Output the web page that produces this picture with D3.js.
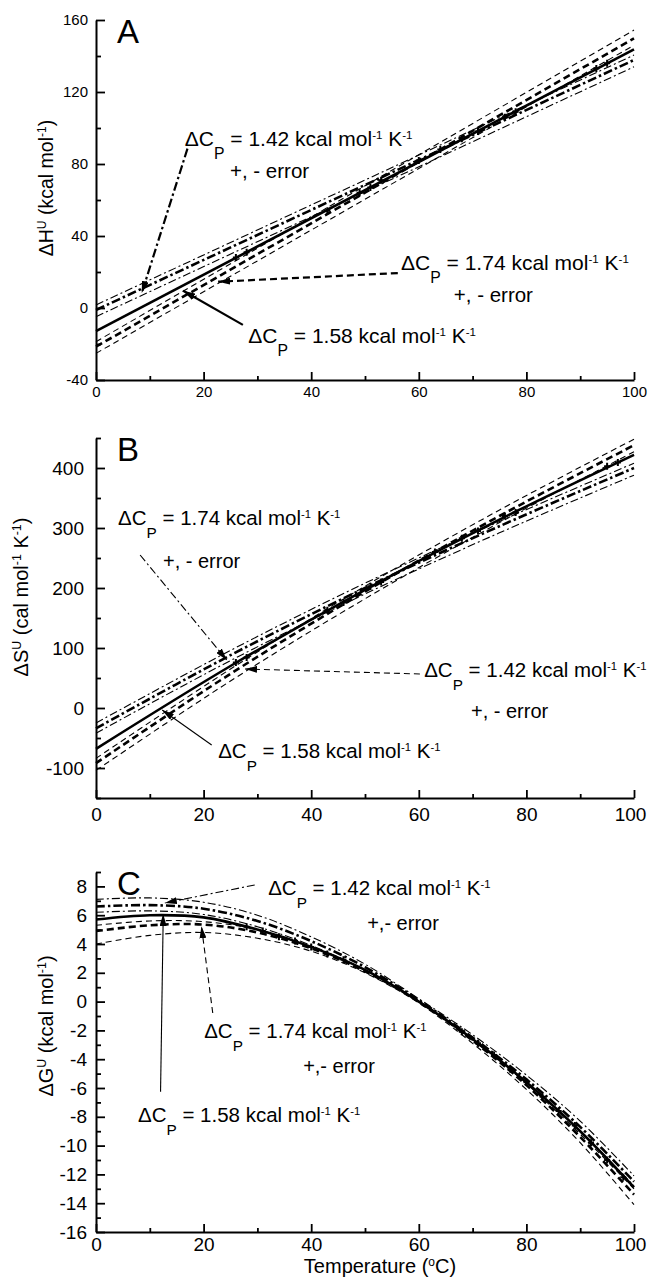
<!DOCTYPE html>
<html>
<head>
<meta charset="utf-8">
<script src="https://cdnjs.cloudflare.com/ajax/libs/d3/7.8.5/d3.min.js"></script>
<style>
  body { margin: 0; background: #fff; }
  svg { display: block; font-family: "Liberation Sans", Arial, Helvetica, sans-serif; }
</style>
</head>
<body>
<script>
// ---- panel A: enthalpy (kcal/mol), straight lines ----
const tempsH = [0, 100];
const dH_solid = [-12.8, 143.7];
const dH_dashdot = [-1.1, 137.8];
const dH_dashdotHi = [1.7, 140.5];
const dH_dashdotLo = [-4.8, 134.0];
const dH_dashed = [-21.5, 149.8];
const dH_dashedHi = [-18.7, 154.4];
const dH_dashedLo = [-25.2, 146.0];
const ptsH_T = [26, 28, 43, 49, 51, 53, 60, 64, 68, 71, 76, 78, 93, 95];
const ptsH = [28, 31, 54, 64, 67, 71, 82, 88, 94, 98, 106, 109, 133, 136];

// ---- panel B: entropy (cal/mol/K) ----
const tempsS = [0, 25, 50, 75, 100];
const dS_solid = [-68, 70, 197, 314, 422];
const dS_dashdot = [-34, 88, 200, 303, 400];
const dS_dashdotHi = [-25, 96, 208, 311, 408];
const dS_dashdotLo = [-42, 79, 190, 292, 388];
const dS_dashed = [-92, 57, 194, 320, 438];
const dS_dashedHi = [-84, 65, 203, 330, 448];
const dS_dashedLo = [-104, 45, 182, 309, 427];
const ptsS_T = [26, 28, 43, 46, 51, 53, 63, 68, 71, 76, 78, 95, 97];
const ptsS = [76, 84, 163, 176, 203, 210, 260, 283, 295, 320, 326, 403, 409];

// ---- panel C: free energy (kcal/mol) ----
const tempsG = [0, 10, 20, 30, 40, 50, 60, 70, 80, 90, 100];
const dG_solid = [5.7, 6.0, 5.85, 5.0, 3.8, 2.2, 0.0, -2.6, -5.6, -9.0, -12.9];
const dG_dashdot = [6.6, 6.7, 6.45, 5.6, 4.2, 2.4, 0.1, -2.5, -5.4, -8.7, -12.5];
const dG_dashdotHi = [7.1, 7.2, 6.9, 6.0, 4.5, 2.6, 0.2, -2.3, -5.1, -8.3, -12.1];
const dG_dashdotLo = [6.2, 6.3, 6.05, 5.2, 3.9, 2.2, 0.0, -2.7, -5.6, -9.0, -12.8];
const dG_dashed = [4.9, 5.3, 5.35, 4.8, 3.7, 2.1, 0.0, -2.7, -5.8, -9.4, -13.4];
const dG_dashedHi = [5.3, 5.6, 5.55, 5.0, 3.8, 2.2, 0.0, -2.6, -5.7, -9.2, -13.0];
const dG_dashedLo = [4.0, 4.6, 4.8, 4.4, 3.5, 2.0, -0.1, -2.9, -6.1, -9.8, -14.1];
const ptsG_T = [28, 31, 34, 37, 40, 43, 46, 68, 71, 74, 77, 80, 83, 86, 89, 92, 95, 98];
const ptsG = [5.2, 4.9, 4.5, 4.2, 3.8, 3.3, 2.9, -2.1, -2.9, -3.7, -4.7, -5.6, -6.6, -7.6, -8.6, -9.8, -11.0, -12.2];

const xTicksMajor = [0, 20, 40, 60, 80, 100];
const xTicksMinor = [10, 30, 50, 70, 90];

const W = 648, H = 1288;
const left = 96, right = 634, plotH = 360;

const styles = {
  solid:       { w: 2.6, dash: null },
  dashed:      { w: 2.6, dash: "7,4" },
  dashedThin:  { w: 1.1, dash: "6,4" },
  dashdot:     { w: 2.6, dash: "9,3,2.5,3" },
  dashdotThin: { w: 1.1, dash: "8,3,2,3" }
};

const zip = (xs, ys) => xs.map((t, i) => [t, ys[i]]);

const panels = [
  {
    letter: "A", top: 20, domain: [-40, 160],
    yMajor: d3.range(-40, 161, 40), yMinor: d3.range(-20, 161, 40),
    tickFont: 15, yPad: 8, xPad: 6, lastDx: 0,
    ylabel: ["ΔH", "U", " (kcal mol", "-1", ")"], ylabelX: 53, ylabelY: 188, ylabelFont: 19.5,
    curve: d3.curveLinear,
    series: [
      [tempsH, dH_dashdotHi, "dashdotThin"], [tempsH, dH_dashdotLo, "dashdotThin"],
      [tempsH, dH_dashedHi, "dashedThin"], [tempsH, dH_dashedLo, "dashedThin"],
      [tempsH, dH_dashdot, "dashdot"], [tempsH, dH_dashed, "dashed"],
      [tempsH, dH_solid, "solid"]
    ],
    pts: [ptsH_T, ptsH],
    annoFont: 21, arrowW: 2.2,
    labels: [
      { at: [16.5, 90], cp: "1.42" }, { at: [24.9, 72.2], txt: "+, - error" },
      { at: [56.7, 21.1], cp: "1.74" }, { at: [66.5, 3.3], txt: "+, - error" },
      { at: [28.3, -19.4], cp: "1.58" }
    ],
    arrows: [
      { from: [17.0, 88.5], to: [8.5, 8.3], style: "dashdot" },
      { from: [56.1, 19.4], to: [22.7, 14.6], style: "dashed" },
      { from: [27.3, -9.4], to: [16.2, 9.6], style: "solid" }
    ]
  },
  {
    letter: "B", top: 438, domain: [-150, 450],
    yMajor: d3.range(-100, 401, 100), yMinor: d3.range(-150, 451, 100),
    tickFont: 19, yPad: 12, xPad: 10, lastDx: -4,
    ylabel: ["ΔS", "U", " (cal mol", "-1", " K", "-1", ")"], ylabelX: 28, ylabelY: 597, ylabelFont: 20,
    curve: d3.curveCatmullRom,
    series: [
      [tempsS, dS_dashdotHi, "dashdotThin"], [tempsS, dS_dashdotLo, "dashdotThin"],
      [tempsS, dS_dashedHi, "dashedThin"], [tempsS, dS_dashedLo, "dashedThin"],
      [tempsS, dS_dashdot, "dashdot"], [tempsS, dS_dashed, "dashed"],
      [tempsS, dS_solid, "solid"]
    ],
    pts: [ptsS_T, ptsS],
    annoFont: 20.5, arrowW: 1.1,
    labels: [
      { at: [4.1, 305], cp: "1.74" }, { at: [12.45, 233], txt: "+, - error" },
      { at: [61.0, 51.7], cp: "1.42" }, { at: [69.7, -16.7], txt: "+, - error" },
      { at: [22.7, -83.3], cp: "1.58" }
    ],
    arrows: [
      { from: [8.2, 255], to: [24.3, 80], style: "dashdotThin" },
      { from: [60.2, 56.7], to: [27.7, 65], style: "dashedThin" },
      { from: [21.5, -61.7], to: [12.3, -3.3], style: "solid" }
    ]
  },
  {
    letter: "C", top: 872, domain: [-16, 9],
    yMajor: d3.range(-16, 9, 2), yMinor: d3.range(-15, 10, 2),
    tickFont: 19, yPad: 9, xPad: 6, lastDx: -4,
    ylabel: ["ΔG", "U", " (kcal mol", "-1", ")"], ylabelX: 53, ylabelY: 1026, ylabelFont: 20,
    curve: d3.curveCatmullRom,
    series: [
      [tempsG, dG_dashdotHi, "dashdotThin"], [tempsG, dG_dashdotLo, "dashdotThin"],
      [tempsG, dG_dashedHi, "dashedThin"], [tempsG, dG_dashedLo, "dashedThin"],
      [tempsG, dG_dashdot, "dashdot"], [tempsG, dG_dashed, "dashed"],
      [tempsG, dG_solid, "solid"]
    ],
    pts: [ptsG_T, ptsG],
    annoFont: 20.5, arrowW: 1.1,
    labels: [
      { at: [32, 7.4], cp: "1.42" }, { at: [50.4, 4.97], txt: "+,- error" },
      { at: [20.1, -2.53], cp: "1.74" }, { at: [38.5, -4.97], txt: "+,- error" },
      { at: [7.8, -8.36], cp: "1.58" }
    ],
    arrows: [
      { from: [29.5, 8.1], to: [12.8, 6.85], style: "dashdotThin" },
      { from: [21.7, -0.79], to: [19.6, 5.23], style: "dashedThin" },
      { from: [12.0, -6.26], to: [12.5, 6.08], style: "solid" }
    ]
  }
];

const svg = d3.select("body").append("svg")
  .attr("width", W).attr("height", H);

svg.append("defs").append("marker")
  .attr("id", "head")
  .attr("viewBox", "0 0 12 7")
  .attr("refX", 12).attr("refY", 3.5)
  .attr("markerWidth", 12).attr("markerHeight", 7)
  .attr("markerUnits", "userSpaceOnUse")
  .attr("orient", "auto")
  .append("path").attr("d", "M0,0L12,3.5L0,7Z").attr("fill", "#000");

function cpLabel(g, x, y, val, fs) {
  const t = g.append("text").attr("x", x).attr("y", y).attr("font-size", fs);
  t.append("tspan").text("ΔC");
  t.append("tspan").attr("font-size", fs * 0.75).attr("dy", fs * 0.62).text("P");
  t.append("tspan").attr("dy", -fs * 0.62).text(" = " + val + " kcal mol");
  t.append("tspan").attr("font-size", fs * 0.55).attr("dy", -fs * 0.33).text("-1");
  t.append("tspan").attr("dy", fs * 0.33).text(" K");
  t.append("tspan").attr("font-size", fs * 0.55).attr("dy", -fs * 0.33).text("-1");
}

// plain hyphen minus, as in the figure
const fmt = d => String(d);

panels.forEach(p => {
  const x = d3.scaleLinear().domain([0, 100]).range([left, right]);
  const y = d3.scaleLinear().domain(p.domain).range([p.top + plotH, p.top]);
  const g = svg.append("g");

  // curves
  const line = d3.line().x(d => x(d[0])).y(d => y(d[1])).curve(p.curve);
  p.series.forEach(([ts, vs, st]) => {
    g.append("path")
      .datum(zip(ts, vs))
      .attr("d", line)
      .attr("fill", "none")
      .attr("stroke", "#000")
      .attr("stroke-width", styles[st].w)
      .attr("stroke-dasharray", styles[st].dash);
  });

  // data points along the fit
  g.append("g").selectAll("path")
    .data(zip(p.pts[0], p.pts[1]))
    .join("path")
    .attr("d", d => `M${x(d[0]) - 3},${y(d[1])}h6M${x(d[0])},${y(d[1]) - 3.5}v7`)
    .attr("stroke", "#000").attr("stroke-width", 2);

  // axes
  const axG = g.append("g").attr("class", "axis");
  const yMin = axG.append("g").attr("transform", `translate(${left},0)`)
    .call(d3.axisLeft(y).tickValues(p.yMinor).tickSize(-5).tickFormat(""));
  yMin.select(".domain").remove();
  axG.append("g").attr("transform", `translate(${left},0)`)
    .call(d3.axisLeft(y).tickValues(p.yMajor).tickFormat(fmt).tickSize(-9).tickSizeOuter(0).tickPadding(p.yPad));
  const xMin = axG.append("g").attr("transform", `translate(0,${p.top + plotH})`)
    .call(d3.axisBottom(x).tickValues(xTicksMinor).tickSize(-4).tickFormat(""));
  xMin.select(".domain").remove();
  const xMaj = axG.append("g").attr("transform", `translate(0,${p.top + plotH})`)
    .call(d3.axisBottom(x).tickValues(xTicksMajor).tickFormat(fmt).tickSize(-8).tickSizeOuter(0).tickPadding(p.xPad));
  xMaj.selectAll(".tick text").filter(d => d === 100).attr("dx", p.lastDx);

  axG.selectAll(".domain").attr("stroke-width", 2);
  axG.selectAll(".tick line").attr("stroke-width", 1.8);
  axG.selectAll("text")
    .attr("font-family", "Liberation Sans, Arial, sans-serif")
    .attr("font-size", p.tickFont)
    .attr("fill", "#000");

  // panel letter
  g.append("text").attr("x", 117).attr("y", p.top + 23)
    .attr("font-size", 33).text(p.letter);

  // y label
  const yl = g.append("text")
    .attr("transform", `translate(${p.ylabelX},${p.ylabelY}) rotate(-90)`)
    .attr("text-anchor", "middle")
    .attr("font-size", p.ylabelFont);
  p.ylabel.forEach((s, i) => {
    const sup = (s === "U" || s === "-1");
    const ts = yl.append("tspan").text(s);
    if (sup) ts.attr("font-size", p.ylabelFont * 0.62).attr("dy", -p.ylabelFont * 0.36);
    else if (i > 0) ts.attr("dy", p.ylabelFont * 0.36);
  });

  // annotations
  p.arrows.forEach(a => {
    g.append("line")
      .attr("x1", x(a.from[0])).attr("y1", y(a.from[1]))
      .attr("x2", x(a.to[0])).attr("y2", y(a.to[1]))
      .attr("stroke", "#000")
      .attr("stroke-width", p.arrowW)
      .attr("stroke-dasharray", styles[a.style].dash)
      .attr("marker-end", "url(#head)");
  });
  p.labels.forEach(l => {
    if (l.cp) cpLabel(g, x(l.at[0]), y(l.at[1]), l.cp, p.annoFont);
    else g.append("text").attr("x", x(l.at[0])).attr("y", y(l.at[1]))
      .attr("font-size", p.annoFont - 0.5).text(l.txt);
  });
});

// x-axis title
const title = svg.append("text")
  .attr("x", 380).attr("y", 1273)
  .attr("text-anchor", "middle")
  .attr("font-size", 20);
title.append("tspan").text("Temperature (");
title.append("tspan").attr("font-size", 12).attr("dy", -7).text("o");
title.append("tspan").attr("dy", 7).text("C)");
</script>
</body>
</html>
